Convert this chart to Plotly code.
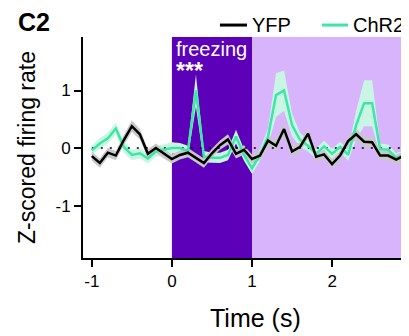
import plotly.graph_objects as go

time_s = [-1.0, -0.9, -0.8, -0.7, -0.6, -0.5, -0.4, -0.3, -0.2, -0.1,
          0.0, 0.1, 0.2, 0.3, 0.4, 0.5, 0.6, 0.7, 0.8, 0.9,
          1.0, 1.1, 1.2, 1.3, 1.4, 1.5, 1.6, 1.7, 1.8, 1.9,
          2.0, 2.1, 2.2, 2.3, 2.4, 2.5, 2.6, 2.7, 2.8, 2.9]

yfp_mean = [-0.14, -0.26, -0.08, -0.13, 0.14, 0.38, 0.24, -0.10, 0.00, -0.10,
            -0.19, -0.12, -0.08, -0.17, -0.26, -0.09, 0.05, 0.15, -0.10, -0.03,
            -0.19, -0.13, 0.13, 0.04, 0.33, -0.06, 0.02, 0.25, -0.15, -0.11,
            -0.28, -0.13, 0.12, 0.24, 0.11, 0.10, -0.13, -0.13, -0.20, -0.13]
yfp_sem = [0.08, 0.08, 0.08, 0.08, 0.09, 0.10, 0.09, 0.08, 0.08, 0.08,
           0.08, 0.08, 0.08, 0.08, 0.08, 0.08, 0.08, 0.09, 0.08, 0.08,
           0.08, 0.08, 0.09, 0.09, 0.12, 0.09, 0.08, 0.09, 0.08, 0.08,
           0.08, 0.08, 0.09, 0.10, 0.09, 0.08, 0.08, 0.08, 0.08, 0.08]

chr2_mean = [-0.04, 0.08, 0.17, 0.34, 0.02, -0.12, -0.09, -0.18, -0.06, -0.03,
             0.00, 0.00, -0.05, 1.00, -0.15, -0.17, -0.17, -0.12, 0.20, -0.12,
             -0.35, -0.12, 0.20, 0.92, 1.00, 0.40, 0.14, 0.04, -0.10, 0.03,
             -0.10, 0.02, -0.12, 0.40, 0.78, 0.78, -0.02, -0.03, -0.17, -0.12]
chr2_sem = [0.08, 0.09, 0.10, 0.10, 0.10, 0.09, 0.09, 0.09, 0.09, 0.10,
            0.10, 0.09, 0.09, 0.28, 0.10, 0.09, 0.09, 0.09, 0.12, 0.10,
            0.10, 0.10, 0.15, 0.38, 0.35, 0.20, 0.12, 0.10, 0.09, 0.10,
            0.09, 0.09, 0.10, 0.25, 0.40, 0.40, 0.10, 0.09, 0.08, 0.08]

x_ticks = [-1, 0, 1, 2]
y_ticks = [-1, 0, 1]
freeze_on = [0, 1]
freeze_after = [1, 2.92]
series_names = ["YFP", "ChR2"]

FONT = "Liberation Sans, Arial, sans-serif"
GREEN = "#3ee6a6"
GREEN_BAND = "#c9f6e4"
GRAY_BAND = "#c8c8c8"

fig = go.Figure()


def band(x, m, s, color):
    up = [a + b for a, b in zip(m, s)]
    lo = [a - b for a, b in zip(m, s)]
    fig.add_trace(go.Scatter(x=x + x[::-1], y=up + lo[::-1], fill="toself",
                             fillcolor=color, line=dict(width=0),
                             hoverinfo="skip", showlegend=False))


band(time_s, chr2_mean, chr2_sem, GREEN_BAND)
band(time_s, yfp_mean, yfp_sem, GRAY_BAND)

fig.add_trace(go.Scatter(x=[time_s[0], 2.96], y=[0, 0], mode="lines",
                         line=dict(color="black", width=1.5, dash="2px,7px"),
                         showlegend=False, hoverinfo="skip"))

fig.add_trace(go.Scatter(x=time_s, y=chr2_mean, mode="lines", name=series_names[1],
                         showlegend=False, line=dict(color=GREEN, width=2.5)))
fig.add_trace(go.Scatter(x=time_s, y=yfp_mean, mode="lines", name=series_names[0],
                         showlegend=False, line=dict(color="black", width=2.5)))

fig.add_shape(type="rect", xref="x", yref="paper", x0=freeze_on[0], x1=freeze_on[1],
              y0=0, y1=1, fillcolor="#5d00b9", line=dict(width=0), layer="below")
fig.add_shape(type="rect", xref="x", yref="paper", x0=freeze_after[0], x1=freeze_after[1],
              y0=0, y1=1, fillcolor="#d7b4fb", line=dict(width=0), layer="below")

# legend (drawn as key lines + text labels)
LEG_Y = 1.054
for (x0, x1, xt), name, col in zip([(0.420, 0.503, 0.512), (0.733, 0.813, 0.821)],
                                   series_names, ["black", GREEN]):
    fig.add_shape(type="line", xref="paper", yref="paper", x0=x0, x1=x1,
                  y0=LEG_Y, y1=LEG_Y, line=dict(color=col, width=3))
    fig.add_annotation(x=xt, y=LEG_Y, xref="paper", yref="paper", text=name,
                       showarrow=False, xanchor="left", yanchor="middle",
                       font=dict(family=FONT, size=20, color="black"))

fig.add_annotation(x=0.03, y=1.005, xref="x", yref="paper", text="freezing",
                   showarrow=False, xanchor="left", yanchor="top",
                   font=dict(family=FONT, size=20, color="white"))
fig.add_annotation(x=0.03, y=0.915, xref="x", yref="paper", text="<b>***</b>",
                   showarrow=False, xanchor="left", yanchor="top",
                   font=dict(family=FONT, size=23, color="white"))
fig.add_annotation(x=-0.207, y=1.068, xref="paper", yref="paper", text="<b>C2</b>",
                   showarrow=False, xanchor="left", yanchor="middle",
                   font=dict(family=FONT, size=25, color="black"))
fig.add_annotation(x=0.528, y=-0.27, xref="paper", yref="paper", text="Time (s)",
                   showarrow=False, xanchor="center", yanchor="middle",
                   font=dict(family=FONT, size=25, color="black"))

fig.update_layout(
    width=401, height=328,
    margin=dict(l=75, r=0, t=29, b=78, autoexpand=False),
    plot_bgcolor="white", paper_bgcolor="white",
    font=dict(family=FONT, size=17, color="black"),
    showlegend=False,
    xaxis=dict(range=[-1.11, 2.96], tickvals=x_ticks, ticktext=[str(v) for v in x_ticks],
               showline=True, linecolor="black", linewidth=2, ticks="outside",
               ticklen=7, tickwidth=2, tickcolor="black", showgrid=False, zeroline=False),
    yaxis=dict(range=[-1.91, 1.93], tickvals=y_ticks, ticktext=[str(v) for v in y_ticks],
               showline=True, linecolor="black", linewidth=2, ticks="outside",
               ticklen=7, tickwidth=2, tickcolor="black", showgrid=False, zeroline=False,
               title=dict(text="Z-scored firing rate", font=dict(size=23), standoff=13)),
)

fig.write_html("out.html")
